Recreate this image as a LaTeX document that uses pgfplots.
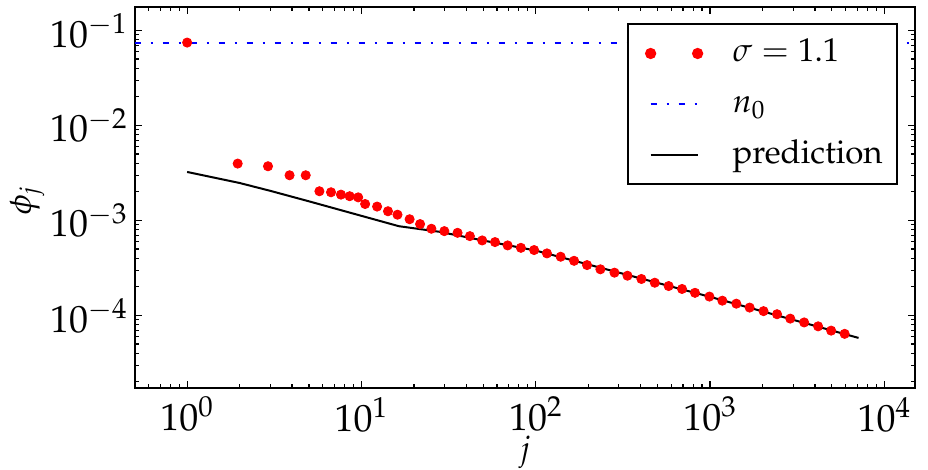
\documentclass[border=0pt]{standalone}
\usepackage[T1]{fontenc}
\usepackage{mathpazo}
\usepackage{pgfplots}
\pgfplotsset{compat=1.18}
\begin{document}
\begin{tikzpicture}
\begin{axis}[
  xmode=log, ymode=log,
  scale only axis,
  width=390.2pt, height=190.7pt,
  xmin=0.5, xmax=15000, ymin=1.72e-5, ymax=0.178,
  axis line style={line width=1pt},
  every tick/.style={black, line width=0.6pt},
  major tick length=3.5pt, minor tick length=2pt,
  tick label style={font=\fontsize{19}{23}\selectfont},
  xticklabel style={yshift=-1pt},
  label style={font=\fontsize{16.5}{20}\selectfont},
  xlabel={$j$}, ylabel={$\phi_j$},
  xlabel style={at={(axis description cs:0.5,0)}, anchor=base, yshift=-35.5pt},
  ylabel style={at={([xshift=-51.85pt,yshift=-1.5pt]axis description cs:0,0.5)}, anchor=base},
  legend style={draw=black, line width=1pt, at={(1,1)}, anchor=north east,
    xshift=-8.65pt, yshift=-8.3pt, inner xsep=5pt, inner ysep=4.6pt,
    row sep=5.4pt,
    font=\fontsize{16.5}{20}\selectfont,
    nodes={text height=12pt, text depth=4pt, inner sep=2pt}},
  legend cell align=left,
]
\addplot[blue, line width=1pt, dash pattern=on 3pt off 5pt on 1pt off 5pt, forget plot]
  coordinates {(0.5,0.0746) (15000,0.0746)};
\addplot[only marks, mark=*, mark size=2.3pt, red, mark options={draw=red, fill=red},
  legend image code/.code={\path[draw=none,fill=none] (-6.5pt,0pt) -- (39pt,0pt); \fill[red] (0pt,0pt) circle (2.3pt); \fill[red] (23.5pt,0pt) circle (2.3pt);}]
coordinates {
(1,0.0746)
(1.95,0.00397)
(2.91,0.00372)
(3.87,0.00299)
(4.79,0.00299)
(5.74,0.00203)
(6.69,0.00198)
(7.63,0.00187)
(8.56,0.00180)
(9.58,0.00175)
(10.5,0.00149)
(12.3,0.00140)
(14.2,0.00125)
(16.1,0.00115)
(18.9,0.00103)
(21.7,0.000916)
(25.2,0.000818)
(29.9,0.000772)
(35.6,0.000741)
(41.9,0.000684)
(49.3,0.000616)
(58.4,0.000592)
(69.0,0.000546)
(82.2,0.000515)
(97.9,0.000488)
(116,0.000450)
(139,0.000415)
(166,0.000376)
(197,0.000339)
(235,0.000306)
(283,0.000282)
(336,0.000262)
(404,0.000242)
(482,0.000221)
(579,0.000204)
(691,0.000190)
(820,0.000173)
(992,0.000158)
(1177,0.000143)
(1416,0.000133)
(1688,0.000121)
(2028,0.000111)
(2424,0.000103)
(2887,9.26e-5)
(3469,8.44e-5)
(4171,7.68e-5)
(4954,6.92e-5)
(5922,6.40e-5)
};
\addlegendentry{$\sigma = 1.1$}
\addlegendimage{legend image code/.code={\path[draw=none,fill=none] (-6.5pt,0pt) -- (39pt,0pt); \draw[blue, line width=1pt, dash pattern=on 3pt off 5pt on 1pt off 5pt] (0pt,0pt) -- (23.5pt,0pt);}}
\addlegendentry{$n_0$}
\addplot[black, line width=1pt,
  legend image code/.code={\path[draw=none,fill=none] (-6.5pt,0pt) -- (39pt,0pt); \draw[black, line width=1pt] (0pt,0pt) -- (23.5pt,0pt);}]
coordinates {
(1,0.00324)
(2,0.00248)
(3,0.00205)
(5,0.00159)
(16.4,0.00087)
(28,0.00076)
(50,0.000615)
(100,0.000482)
(1000,0.000157)
(7115,5.8e-5)
};
\addlegendentry{prediction}
\end{axis}
\pgfresetboundingbox
\path ([shift={(-67.35pt,-40.5pt)}]current axis.south west) rectangle ([shift={(6.5pt,3.35pt)}]current axis.north east);
\end{tikzpicture}
\end{document}
